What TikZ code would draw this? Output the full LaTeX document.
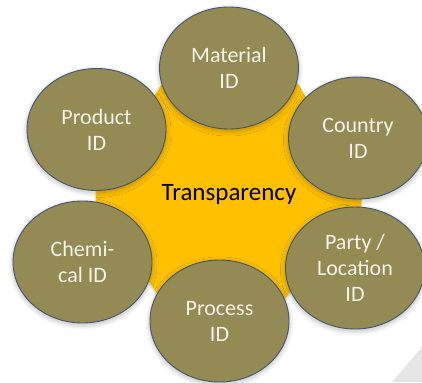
\documentclass[tikz,border=0pt]{standalone}
\usepackage{fontspec}
\setmainfont{Carlito}
\usetikzlibrary{shapes.geometric,shadows.blur}
\definecolor{idolive}{RGB}{148,138,84}
\definecolor{idedge}{RGB}{68,84,112}
\definecolor{idtext}{RGB}{246,244,232}
\definecolor{hubgold}{RGB}{255,192,0}
\definecolor{cornergray}{RGB}{230,230,230}
\tikzset{
	idcircle/.style={draw=idedge, line width=0.9pt, fill=idolive, ellipse, minimum width=139pt, minimum height=122pt, inner sep=0pt, align=center, text=idtext, font=\fontsize{22}{26}\selectfont, blur shadow={shadow blur steps=24, shadow blur radius=5pt, shadow xshift=0pt, shadow yshift=-2pt, shadow opacity=28}},
	hub/.style={fill=hubgold, draw=hubgold!90!orange, blur shadow={shadow blur steps=16, shadow xshift=0pt, shadow yshift=-2pt, shadow opacity=20}}
}

\begin{document}
\begin{tikzpicture}[x=1pt, y=-1pt]
		\useasboundingbox (0,0) rectangle (422,382);
		\fill[cornergray] (392,382) -- (422,347) -- (422,382) -- cycle;
		
		% the hexagon in the middle
		\path[hub] (96,190) -- (162,84) -- (298,84) -- (361,193) -- (361,207) -- (279,305) -- (165,305) -- (96,202) -- cycle;
		\node[font=\fontsize{25}{29}\selectfont, anchor=base] (T) at (229,200) {Transparency};
		
		\node[idcircle] (material) at (229,68) {Material\\ID};
		\node[idcircle] (product) at (96.5,129.5) {Product\\ID};
		\node[idcircle] (country) at (358,138) {Country\\ID};
		\node[idcircle] (chemical) at (82.5,262) {Chemi-\\cal ID};
		\node[idcircle] (party) at (355,268) {Party /\\Location\\ID};
		\node[idcircle] (process) at (219.5,321) {Process\\ID};
	\end{tikzpicture}
\end{document}
